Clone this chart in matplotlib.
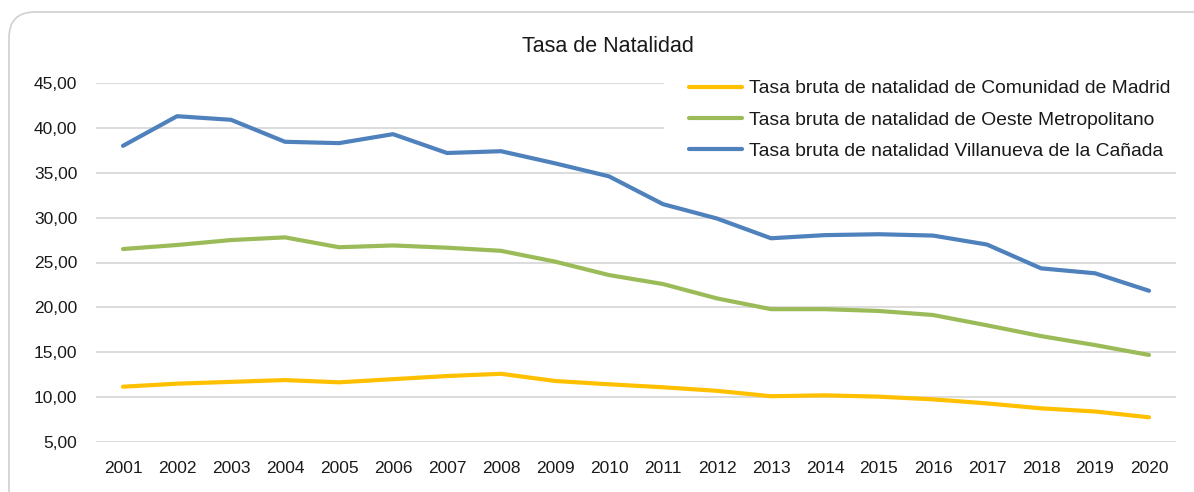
import matplotlib
matplotlib.use("Agg")
import matplotlib.pyplot as plt
from matplotlib.patches import FancyBboxPatch, Rectangle
from matplotlib.ticker import FuncFormatter

years = [str(y) for y in range(2001, 2021)]
madrid = [11.16, 11.5, 11.7, 11.9, 11.65, 12.0, 12.35, 12.6, 11.8, 11.43,
          11.1, 10.7, 10.1, 10.2, 10.05, 9.75, 9.3, 8.75, 8.4, 7.75]
oeste = [26.5, 26.95, 27.5, 27.8, 26.7, 26.9, 26.65, 26.3, 25.1, 23.6,
         22.6, 21.0, 19.8, 19.8, 19.6, 19.15, 18.0, 16.8, 15.8, 14.7]
villanueva = [38.0, 41.3, 40.9, 38.45, 38.3, 39.3, 37.2, 37.4, 36.05, 34.6,
              31.5, 29.9, 27.7, 28.05, 28.15, 28.0, 27.0, 24.35, 23.8, 21.85]
labels = ["Tasa bruta de natalidad de Comunidad de Madrid",
          "Tasa bruta de natalidad de Oeste Metropolitano",
          "Tasa bruta de natalidad Villanueva de la Cañada"]
colors = ["#FFC000", "#9BBB59", "#4F81BD"]

plt.rcParams["font.family"] = ["Liberation Sans", "DejaVu Sans"]
fs_tick, fs_leg, fs_title = 12.5, 13.9, 15.5

W, H = 1194, 492
fig = plt.figure(figsize=(W / 100, H / 100), dpi=100)

# rounded chart frame, drawn on a background layer in pixel units
bg = fig.add_axes([0, 0, 1, 1], zorder=0)
bg.set_xlim(0, W)
bg.set_ylim(H, 0)
bg.axis("off")
bg.add_patch(FancyBboxPatch((9, 12), W + 40, H + 40,
                            boxstyle="round,pad=0,rounding_size=26",
                            facecolor="white", edgecolor="#D0D0D0",
                            linewidth=1.2))

ax = fig.add_axes([96 / W, 1 - 442 / H, (1176 - 96) / W, (442 - 83) / H], zorder=1)
ax.set_facecolor("none")
x = range(len(years))
for vals, lab, col in zip([madrid, oeste, villanueva], labels, colors):
    ax.plot(x, vals, color=col, linewidth=3.0, label=lab,
            solid_capstyle="round", solid_joinstyle="round", zorder=3)

ax.set_xlim(-0.5, len(years) - 0.5)
ax.set_ylim(5, 45)
ax.set_yticks(range(5, 46, 5))
ax.yaxis.set_major_formatter(FuncFormatter(lambda v, p: f"{v:.2f}".replace(".", ",")))
ax.set_xticks(list(x))
ax.set_xticklabels(years)
ax.grid(axis="y", color="#D9D9D9", linewidth=1.3, zorder=1)
ax.set_axisbelow(True)
for s in ax.spines.values():
    s.set_visible(False)
ax.tick_params(axis="y", length=0, pad=13.5, labelsize=fs_tick, labelcolor="#1a1a1a")
ax.tick_params(axis="x", length=0, pad=13.5, labelsize=fs_tick, labelcolor="#1a1a1a")

fig.text(608 / W, 1 - 47 / H, "Tasa de Natalidad", ha="center", va="center",
         fontsize=fs_title, color="#1a1a1a", zorder=2)

# white legend area hiding the gridlines behind it
ax.add_patch(Rectangle((664 / W, 1 - 162 / H), (1180 - 664) / W, (162 - 68) / H,
                       transform=fig.transFigure, facecolor="white",
                       edgecolor="none", zorder=2, clip_on=False))

leg = ax.legend(loc="upper left", bbox_to_anchor=(684 / W, 1 - 75 / H),
                bbox_transform=fig.transFigure, frameon=False, fontsize=fs_leg,
                handlelength=2.75, handletextpad=0.35, labelspacing=0.72,
                borderpad=0.25, borderaxespad=0)
for t in leg.get_texts():
    t.set_color("#1a1a1a")

fig.savefig("out.png", dpi=100)
